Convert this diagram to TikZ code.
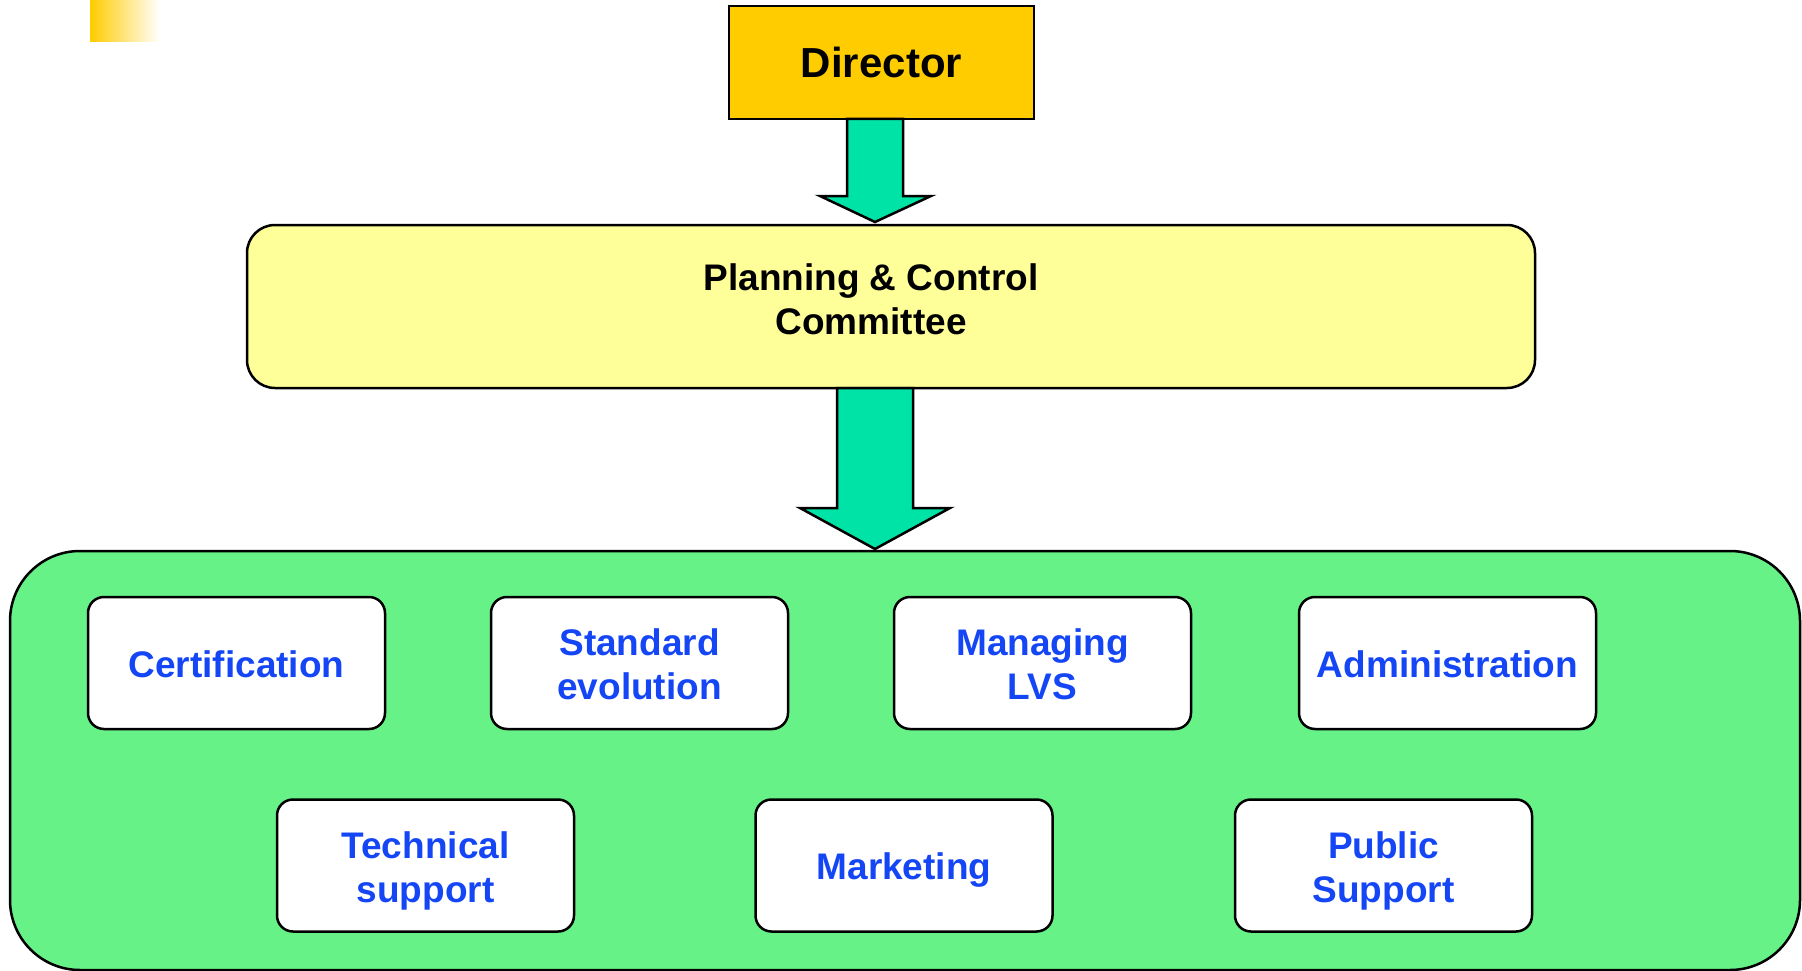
\documentclass[tikz,border=0pt]{standalone}
\usepackage{fontspec}
\setmainfont{Liberation Sans}
\definecolor{diryellow}{HTML}{FFCC00}
\definecolor{planyellow}{HTML}{FFFF99}
\definecolor{arrowgreen}{HTML}{00E3A6}
\definecolor{boxgreen}{HTML}{66F287}
\definecolor{txtblue}{HTML}{1446F5}
\begin{document}
\begin{tikzpicture}[x=1pt,y=-1pt,
  unitbox/.style={draw=black, line width=2.5pt, rounded corners=16pt, fill=white,
    minimum width=297pt, minimum height=132pt, inner sep=0pt},
  unittext/.style={text=txtblue, font=\bfseries\fontsize{37}{44}\selectfont, align=center, inner sep=0pt},
  blockarrow/.style={draw=black, line width=2.5pt, fill=arrowgreen, line join=miter},
  headfont/.style={font=\bfseries\fontsize{37}{44}\selectfont, align=center, text=black}]
\useasboundingbox (0,0) rectangle (1802,971);
\shade[left color=diryellow, right color=white] (90,0) rectangle (160,42);
% Director
\node[draw=black, line width=2.5pt, fill=diryellow, minimum width=305pt, minimum height=113pt,
  inner sep=0pt, font=\bfseries\fontsize{42}{50}\selectfont] (dir) at (881.5,62.5) {Director};
% Planning
\node[draw=black, line width=2.5pt, fill=planyellow, rounded corners=28pt,
  minimum width=1288pt, minimum height=163pt, inner sep=0pt] (plan) at (891,306.5) {};
\node[headfont] (plantext) at (871,299) {Planning \& Control\\Committee};
% group
\node[draw=black, line width=2.5pt, fill=boxgreen, rounded corners=70pt,
  minimum width=1790pt, minimum height=419pt, inner sep=0pt] (grp) at (905,760.5) {};
% arrows
\draw[blockarrow] (847,119) -- (847,196) -- (820,196) -- (875,222) -- (931,196) -- (903,196) -- (903,119) -- cycle;
\draw[blockarrow] (837,388) -- (837,508) -- (800,508) -- (875,549) -- (950,508) -- (913,508) -- (913,388) -- cycle;
% units
\node[unitbox, label={[unittext, yshift=-1pt]center:Certification}] (cert) at (236.5,663) {};
\node[unitbox, label={[unittext, yshift=-1pt]center:Standard\\evolution}] (stdev) at (639.5,663) {};
\node[unitbox, label={[unittext, yshift=-1pt]center:Managing\\LVS}] (lvs) at (1042.5,663) {};
\node[unitbox, label={[unittext, yshift=-1pt]center:Administration}] (admin) at (1447.5,663) {};
\node[unitbox, label={[unittext, yshift=-5pt]center:Technical\\support}] (tech) at (425.5,865.5) {};
\node[unitbox, label={[unittext, yshift=-5pt]center:Marketing}] (mkt) at (904,865.5) {};
\node[unitbox, label={[unittext, yshift=-5pt]center:Public\\Support}] (pub) at (1383.5,865.5) {};
\end{tikzpicture}
\end{document}
